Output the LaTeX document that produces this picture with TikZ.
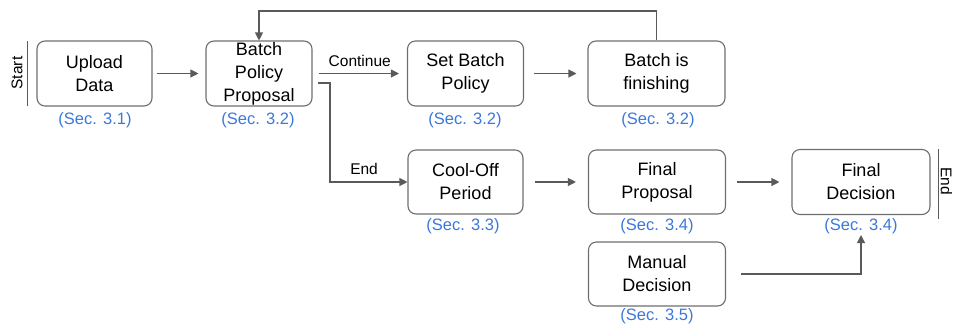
\documentclass[tikz,border=0pt]{standalone}
\usepackage{fontspec}
\setmainfont{Liberation Sans}
\usetikzlibrary{arrows.meta}
\definecolor{secblue}{RGB}{60,120,216}
\definecolor{edgegray}{RGB}{90,90,90}
\definecolor{boxgray}{RGB}{110,110,110}
\begin{document}
\begin{tikzpicture}[x=1pt,y=-1pt,
  stagebox/.style={draw=boxgray,line width=1.1pt,rounded corners=8pt,
    align=center,font=\fontsize{18}{23}\selectfont,inner sep=0pt},
  seclabel/.style={text=secblue,font=\fontsize{16.5}{19}\selectfont,inner sep=0pt},
  flowlabel/.style={font=\fontsize{15.5}{18}\selectfont,inner sep=0pt},
  flow/.style={draw=edgegray,line width=1.1pt,
    -{Triangle[length=8pt,width=8pt]}},
  bar/.style={draw=edgegray,line width=1pt}]
\useasboundingbox (0,0) rectangle (953,325);

% stages
\node[stagebox,minimum width=115pt,minimum height=65pt] (up)  at (94.5,73.5) {Upload\\Data};
\node[stagebox,minimum width=106pt,minimum height=65pt] (bpp) at (259,73.5) {Batch\\Policy\\Proposal};
\node[stagebox,minimum width=116pt,minimum height=65pt] (sbp) at (465.5,73.5) {Set Batch\\Policy};
\node[stagebox,minimum width=137pt,minimum height=65pt] (bif) at (656.5,73.5) {Batch is\\finishing};
\node[stagebox,minimum width=115pt,minimum height=64pt] (coo) at (465.5,182) {Cool-Off\\Period};
\node[stagebox,minimum width=137pt,minimum height=64pt] (fp)  at (657,182) {Final\\Proposal};
\node[stagebox,minimum width=138pt,minimum height=65pt] (fd)  at (861,182) {Final\\Decision};
\node[stagebox,minimum width=137pt,minimum height=64pt] (md)  at (657,274) {Manual\\Decision};

% section references
\node[seclabel] (s1) at (95,120)  {(Sec. 3.1)};
\node[seclabel] (s2) at (258,120) {(Sec. 3.2)};
\node[seclabel] (s3) at (465,120) {(Sec. 3.2)};
\node[seclabel] (s4) at (658,120) {(Sec. 3.2)};
\node[seclabel] (s5) at (463,226) {(Sec. 3.3)};
\node[seclabel] (s6) at (657,226) {(Sec. 3.4)};
\node[seclabel] (s7) at (861,226) {(Sec. 3.4)};
\node[seclabel] (s8) at (657,316) {(Sec. 3.5)};

% start and end markers
\coordinate (st1) at (27,41);
\coordinate (st2) at (27,106);
\draw[bar] (st1) -- (st2);
\node[flowlabel,rotate=90] (start) at (17,73) {Start};
\coordinate (en1) at (938,149);
\coordinate (en2) at (938,219);
\draw[bar] (en1) -- (en2);
\node[flowlabel,rotate=-90] (endl) at (946.5,181) {End};

% straight arrows between stages
\draw[flow,shorten <=4pt,shorten >=7pt] (up.east) -- (bpp.west);
\draw[flow,shorten <=6pt,shorten >=8pt] (bpp.east) -- (sbp.west)
  node[flowlabel,midway,above=6pt] (cont) {Continue};
\draw[flow,shorten <=10pt,shorten >=11pt] (sbp.east) -- (bif.west);
\draw[flow,shorten <=11pt,shorten >=12pt] (coo.east) -- (fp.west);
\draw[flow,shorten <=11pt,shorten >=12pt] (fp.east) -- (fd.west);

% branch to the cool-off period
\coordinate (bend) at (318,83);
\draw[flow] (bend) -- (330,83) |- (coo.west)
  node[flowlabel,pos=0.72,above=7pt] (endlab) {End};

% feedback loop while the batch is finishing
\draw[flow] (bif.north) -- (656.5,11) -| (bpp.north);

% manual decision feeds the final decision
\coordinate (mdout) at (741,274);
\draw[flow] (mdout) -| (861,235);
\end{tikzpicture}
\end{document}
